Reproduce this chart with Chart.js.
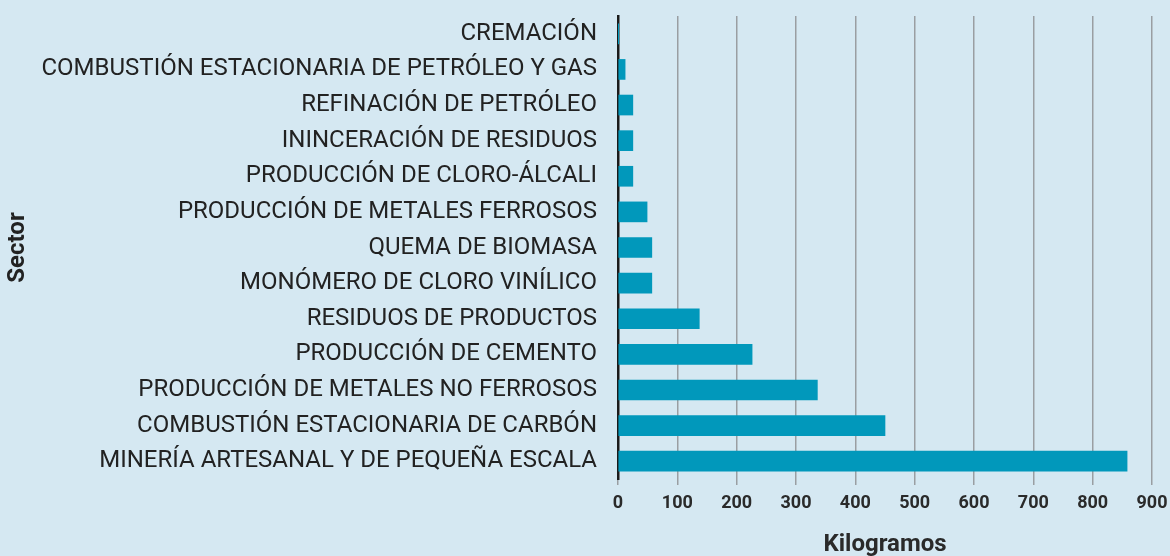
<!DOCTYPE html>
<html><head><meta charset="utf-8">
<script src="https://cdn.jsdelivr.net/npm/chart.js@4/dist/chart.umd.min.js"></script>
<style>
html,body{margin:0;padding:0;background:#d5e8f2;}
#wrap{width:1170px;height:556px;}
</style></head>
<body><div id="wrap"><canvas id="c" width="1170" height="556"></canvas></div>
<script>
const categories = [
  "CREMACIÓN",
  "COMBUSTIÓN ESTACIONARIA DE PETRÓLEO Y GAS",
  "REFINACIÓN DE PETRÓLEO",
  "ININCERACIÓN DE RESIDUOS",
  "PRODUCCIÓN DE CLORO-ÁLCALI",
  "PRODUCCIÓN DE METALES FERROSOS",
  "QUEMA DE BIOMASA",
  "MONÓMERO DE CLORO VINÍLICO",
  "RESIDUOS DE PRODUCTOS",
  "PRODUCCIÓN DE CEMENTO",
  "PRODUCCIÓN DE METALES NO FERROSOS",
  "COMBUSTIÓN ESTACIONARIA DE CARBÓN",
  "MINERÍA ARTESANAL Y DE PEQUEÑA ESCALA"
];
const kilogramos = [0.5, 12, 25, 25, 25, 49, 57, 57, 137, 226, 336, 450, 858];
const xTicks = [0, 100, 200, 300, 400, 500, 600, 700, 800, 900];

new Chart(document.getElementById('c'), {
  type: 'bar',
  data: {
    labels: categories,
    datasets: [{
      data: kilogramos,
      backgroundColor: '#0198bb',
      barThickness: 20,
      borderWidth: 0
    }]
  },
  options: {
    indexAxis: 'y',
    responsive: false,
    animation: false,
    layout: { padding: { left: 0, right: 18, top: 16, bottom: 0 } },
    plugins: { legend: { display: false }, tooltip: { enabled: false } },
    scales: {
      x: {
        min: 0, max: 900,
        afterBuildTicks: s => { s.ticks = xTicks.map(v => ({ value: v })); },
        afterFit: s => { s.height = 77; s.paddingLeft = 0; s.paddingRight = 0; },
        grid: { color: '#9a9ea2', lineWidth: 1.5, tickLength: 6, drawTicks: true },
        border: { display: false },
        ticks: { color: '#2a2a2a', font: { family: 'Roboto', size: 18, weight: 'bold' }, padding: 8 },
        title: { display: true, text: 'Kilogramos', color: '#2a2a2a', font: { family: 'Roboto', size: 24, weight: 'bold' }, padding: { top: 0, bottom: -3 } }
      },
      y: {
        afterFit: s => { s.width = 618; s.paddingTop = 0; s.paddingBottom = 0; },
        grid: { display: false, drawTicks: false },
        border: { display: true, color: '#1a1a1a', width: 2.5 },
        ticks: { color: '#222', font: { family: 'Roboto', size: 24 }, padding: 21 },
        title: { display: true, text: 'Sector', color: '#222', font: { family: 'Roboto', size: 24, weight: 'bold' }, padding: { top: 4, bottom: 0 } }
      }
    }
  }
});
</script></body></html>
